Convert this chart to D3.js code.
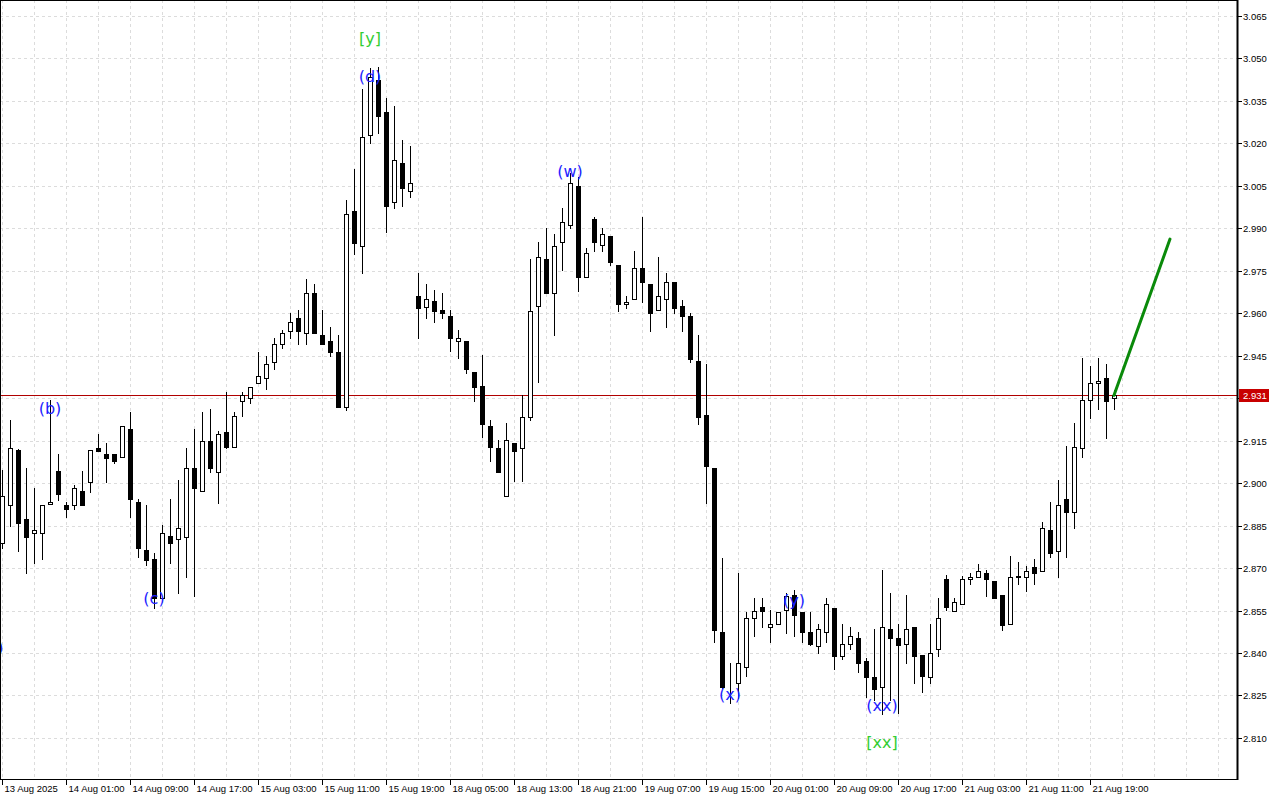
<!DOCTYPE html>
<html><head><meta charset="utf-8">
<script src="https://cdn.jsdelivr.net/npm/d3@7"></script>
<style>html,body{margin:0;padding:0;background:#fff;overflow:hidden}</style>
</head><body><svg id="c" width="1280" height="800"></svg>
<script>
const opens=[2.8790,2.8921,2.9117,2.8872,2.8823,2.8823,2.8927,2.9043,2.8923,2.8922,
2.8971,2.9003,2.9123,2.9102,2.9102,2.9091,2.9191,2.8932,2.8764,2.8732,
2.8594,2.8813,2.8802,2.8811,2.9053,2.8972,2.9150,2.9041,2.9182,2.9129,
2.9291,2.9300,2.9353,2.9370,2.9429,2.9490,2.9539,2.9582,2.9529,2.9671,
2.9522,2.9502,2.9462,2.9270,2.9961,2.9839,3.0229,3.0424,3.0311,2.9992,
3.0130,3.0032,2.9661,2.9621,2.9644,2.9612,2.9590,2.9502,2.9502,2.9393,
2.9343,2.9202,2.9123,2.8954,2.9141,2.9123,2.9235,2.9624,2.9792,2.9671,
2.9851,2.9912,3.0050,2.9729,2.9932,2.9841,2.9873,2.9771,2.9632,2.9649,
2.9759,2.9703,2.9612,2.9650,2.9710,2.9624,2.9590,2.9431,2.9241,2.9053,
2.8473,2.8293,2.8293,2.8352,2.8523,2.8562,2.8491,2.8503,2.8551,2.8605,
2.8544,2.8473,2.8425,2.8473,2.8560,2.8391,2.8431,2.8452,2.8372,2.8314,
2.8281,2.8484,2.8452,2.8431,2.8491,2.8393,2.8314,2.8413,2.8660,2.8550,
2.8572,2.8660,2.8670,2.8682,2.8655,2.8605,2.8502,2.8670,2.8670,2.8703,
2.8691,2.8834,2.8761,2.8943,2.8899,2.9123,2.9294,2.9353,2.9370,2.9300];
const highs=[2.9046,2.9223,2.9120,2.9053,2.8982,2.8921,2.9294,2.9103,2.8933,2.8992,
2.9044,2.9117,2.9174,2.9143,2.9102,2.9200,2.9251,2.8944,2.8923,2.8752,
2.8852,2.8943,2.9011,2.9123,2.9190,2.9250,2.9261,2.9184,2.9321,2.9250,
2.9323,2.9341,2.9462,2.9450,2.9512,2.9541,2.9600,2.9611,2.9720,2.9703,
2.9612,2.9553,2.9523,3.0000,3.0110,3.0392,3.0466,3.0471,3.0359,3.0332,
3.0212,3.0191,2.9741,2.9703,2.9682,2.9671,2.9612,2.9541,2.9502,2.9393,
2.9453,2.9223,2.9152,2.9211,2.9141,2.9311,2.9792,2.9853,2.9900,2.9880,
2.9971,3.0094,3.0080,2.9830,2.9941,2.9900,2.9873,2.9771,2.9661,2.9820,
2.9939,2.9703,2.9800,2.9741,2.9710,2.9647,2.9600,2.9523,2.9421,2.9053,
2.8735,2.8364,2.8682,2.8544,2.8594,2.8594,2.8552,2.8544,2.8612,2.8623,
2.8544,2.8544,2.8502,2.8594,2.8560,2.8502,2.8490,2.8475,2.8381,2.8485,
2.8693,2.8611,2.8503,2.8605,2.8491,2.8393,2.8502,2.8594,2.8676,2.8594,
2.8672,2.8682,2.8714,2.8693,2.8655,2.8605,2.8743,2.8722,2.8706,2.8731,
2.8862,2.8932,2.9011,2.9131,2.9211,2.9441,2.9415,2.9441,2.9420,2.9329];
const lows=[2.8771,2.8850,2.8761,2.8682,2.8719,2.8731,2.8982,2.8941,2.8882,2.8910,
2.8941,2.8970,2.9112,2.9003,2.9070,2.9091,2.8882,2.8740,2.8711,2.8559,
2.8590,2.8719,2.8611,2.8670,2.8603,2.8972,2.9041,2.8929,2.9123,2.9129,
2.9238,2.9282,2.9353,2.9332,2.9402,2.9478,2.9512,2.9490,2.9490,2.9529,
2.9490,2.9450,2.9270,2.9258,2.9809,2.9741,3.0200,3.0238,2.9888,2.9971,
2.9980,3.0010,2.9512,2.9582,2.9570,2.9582,2.9468,2.9441,2.9390,2.9291,
2.9162,2.9079,2.9041,2.8954,2.9008,2.9008,2.9223,2.9358,2.9671,2.9523,
2.9753,2.9900,2.9680,2.9729,2.9820,2.9820,2.9770,2.9608,2.9620,2.9649,
2.9641,2.9539,2.9612,2.9551,2.9600,2.9539,2.9429,2.9209,2.8929,2.8440,
2.8275,2.8225,2.8240,2.8320,2.8461,2.8491,2.8440,2.8503,2.8472,2.8460,
2.8440,2.8428,2.8401,2.8440,2.8343,2.8379,2.8413,2.8334,2.8244,2.8234,
2.8185,2.8234,2.8187,2.8364,2.8293,2.8261,2.8293,2.8391,2.8552,2.8550,
2.8572,2.8643,2.8670,2.8603,2.8594,2.8481,2.8502,2.8643,2.8620,2.8643,
2.8691,2.8740,2.8670,2.8740,2.8841,2.9091,2.9231,2.9261,2.9161,2.9261];
const closes=[2.8954,2.9123,2.8860,2.8811,2.8833,2.8921,2.8932,2.8961,2.8910,2.8982,
2.8921,2.9117,2.9112,2.9090,2.9079,2.9200,2.8943,2.8772,2.8728,2.8594,
2.8823,2.8790,2.8841,2.9053,2.8982,2.9150,2.9053,2.9173,2.9129,2.9238,
2.9310,2.9341,2.9379,2.9420,2.9490,2.9529,2.9570,2.9539,2.9671,2.9529,
2.9490,2.9462,2.9270,2.9951,2.9849,3.0222,3.0435,3.0298,2.9980,3.0142,
3.0041,3.0059,2.9620,2.9649,2.9609,2.9600,2.9512,2.9512,2.9402,2.9341,
2.9210,2.9129,2.9041,2.9151,2.9112,2.9233,2.9609,2.9800,2.9671,2.9839,
2.9921,3.0059,2.9729,2.9812,2.9851,2.9879,2.9780,2.9632,2.9641,2.9759,
2.9710,2.9600,2.9661,2.9710,2.9620,2.9590,2.9439,2.9233,2.9062,2.8481,
2.8281,2.8294,2.8364,2.8523,2.8550,2.8550,2.8503,2.8544,2.8603,2.8534,
2.8473,2.8431,2.8484,2.8572,2.8391,2.8431,2.8461,2.8364,2.8314,2.8272,
2.8491,2.8452,2.8428,2.8484,2.8391,2.8320,2.8401,2.8523,2.8562,2.8581,
2.8660,2.8670,2.8691,2.8660,2.8594,2.8499,2.8670,2.8671,2.8691,2.8682,
2.8841,2.8752,2.8923,2.8899,2.9129,2.9294,2.9353,2.9361,2.9291,2.9310];

const priceTicks=["3.065","3.050","3.035","3.020","3.005","2.990","2.975","2.960","2.945","2.930","2.915","2.900","2.885","2.870","2.855","2.840","2.825","2.810"];
const timeLabels=["13 Aug 2025","14 Aug 01:00","14 Aug 09:00","14 Aug 17:00","15 Aug 03:00","15 Aug 11:00","15 Aug 19:00","18 Aug 05:00","18 Aug 13:00","18 Aug 21:00","19 Aug 07:00","19 Aug 15:00","20 Aug 01:00","20 Aug 09:00","20 Aug 17:00","21 Aug 03:00","21 Aug 11:00","21 Aug 19:00"];
const timeLabelBars=[0,8,16,24,32,40,48,56,64,72,80,88,96,104,112,120,128,136];

const waveText=["(a)","(b)","(c)","(d)","[y]","(w)","(x)","(y)","(xx)","[xx]"];
const waveBar=[-1.2,6,19,46,46,71,91,99,110,110];
const wavePrice=[2.8418,2.9262,2.8594,3.0438,3.0569,3.0099,2.8255,2.8584,2.8216,2.8082];
const waveDegree=["minor","minor","minor","minor","major","minor","minor","minor","minor","major"];

const forecastBars=[139,146];
const forecastPrices=[2.9310,2.9862];
const lastPrice=2.931;
const lastPriceLabel="2.931";

const svg=d3.select("#c");
const plotR=1237, plotB=779;
const x=d3.scaleLinear().domain([0,139]).range([2,1114]);
const y=d3.scaleLinear().domain([2.810,3.065]).range([737.9,16]);
const px=v=>Math.round(x(v));
const py=v=>Math.round(y(v));

svg.append("rect").attr("width",1280).attr("height",800).attr("fill","#fff");
svg.append("defs").append("clipPath").attr("id","pc").append("rect")
  .attr("x",0).attr("y",0).attr("width",plotR).attr("height",plotB);

const g=svg.append("g").attr("clip-path","url(#pc)");
const gridColor="#dcdcdc";
priceTicks.forEach(t=>{
  const yy=py(+t)+0.5;
  g.append("line").attr("x1",0).attr("x2",plotR).attr("y1",yy).attr("y2",yy)
   .attr("stroke",gridColor).attr("stroke-dasharray","3,3").attr("shape-rendering","crispEdges");
});
d3.range(0,39).forEach(k=>{
  const xx=px(k*4)+0.5;
  g.append("line").attr("x1",xx).attr("x2",xx).attr("y1",0).attr("y2",plotB)
   .attr("stroke",gridColor).attr("stroke-dasharray","3,3").attr("shape-rendering","crispEdges");
});

g.append("line").attr("x1",0).attr("x2",plotR).attr("y1",py(lastPrice)+0.5).attr("y2",py(lastPrice)+0.5)
  .attr("stroke","#b00000").attr("stroke-width",1).attr("shape-rendering","crispEdges");

const cg=g.append("g").attr("shape-rendering","crispEdges");
opens.forEach((o,i)=>{
  const c=closes[i], hi=Math.max(highs[i],o,c), lo=Math.min(lows[i],o,c);
  const cx=px(i);
  cg.append("line").attr("x1",cx+0.5).attr("x2",cx+0.5).attr("y1",py(hi)).attr("y2",py(lo)+1)
    .attr("stroke","#000").attr("stroke-width",1);
  const top=py(Math.max(o,c)), bot=py(Math.min(o,c));
  cg.append("rect").attr("x",cx-1.5).attr("y",top+0.5).attr("width",4).attr("height",Math.max(bot-top,0))
    .attr("fill",c>=o?"#fff":"#000").attr("stroke","#000").attr("stroke-width",1);
});

g.append("line").attr("x1",x(forecastBars[0])).attr("y1",y(forecastPrices[0]))
  .attr("x2",x(forecastBars[1])).attr("y2",y(forecastPrices[1]))
  .attr("stroke","#0a8a0a").attr("stroke-width",3).attr("stroke-linecap","round");

waveText.forEach((t,i)=>{
  g.append("text").attr("x",x(waveBar[i])).attr("y",y(wavePrice[i]))
    .attr("text-anchor","middle").attr("dominant-baseline","central")
    .attr("font-family","DejaVu Sans").attr("font-size",16)
    .attr("fill",waveDegree[i]==="major"?"#32cd32":"#1e1eff").text(t);
});

svg.append("line").attr("x1",0.5).attr("x2",0.5).attr("y1",0).attr("y2",plotB).attr("stroke","#000");
svg.append("line").attr("x1",0).attr("x2",plotR).attr("y1",0.5).attr("y2",0.5).attr("stroke","#000");
svg.append("line").attr("x1",plotR+0.5).attr("x2",plotR+0.5).attr("y1",0).attr("y2",plotB+1).attr("stroke","#000").attr("stroke-width",2);
svg.append("line").attr("x1",0).attr("x2",plotR+1).attr("y1",plotB+0.5).attr("y2",plotB+0.5).attr("stroke","#000");

const font="Liberation Sans";
const ly=py(lastPrice);
priceTicks.forEach(t=>{
  const yy=py(+t)+0.5;
  svg.append("line").attr("x1",plotR+1).attr("x2",plotR+5).attr("y1",yy).attr("y2",yy).attr("stroke","#000").attr("shape-rendering","crispEdges");
  if(Math.abs(yy-ly)>9)
    svg.append("text").attr("x",plotR+6).attr("y",yy+3.5).attr("font-family",font).attr("font-size",9.5).attr("fill","#000").text(t);
});
svg.append("rect").attr("x",plotR+2).attr("y",ly-6).attr("width",30).attr("height",13).attr("fill","#c80000");
svg.append("text").attr("x",plotR+6).attr("y",ly+4).attr("font-family",font).attr("font-size",9.5).attr("fill","#fff").text(lastPriceLabel);

timeLabels.forEach((t,i)=>{
  const xx=px(timeLabelBars[i])+0.5;
  svg.append("line").attr("x1",xx).attr("x2",xx).attr("y1",plotB).attr("y2",plotB+6).attr("stroke","#000").attr("shape-rendering","crispEdges");
  svg.append("text").attr("x",xx+2).attr("y",plotB+13).attr("font-family",font).attr("font-size",9.5).attr("fill","#000").text(t);
});
</script></body></html>
